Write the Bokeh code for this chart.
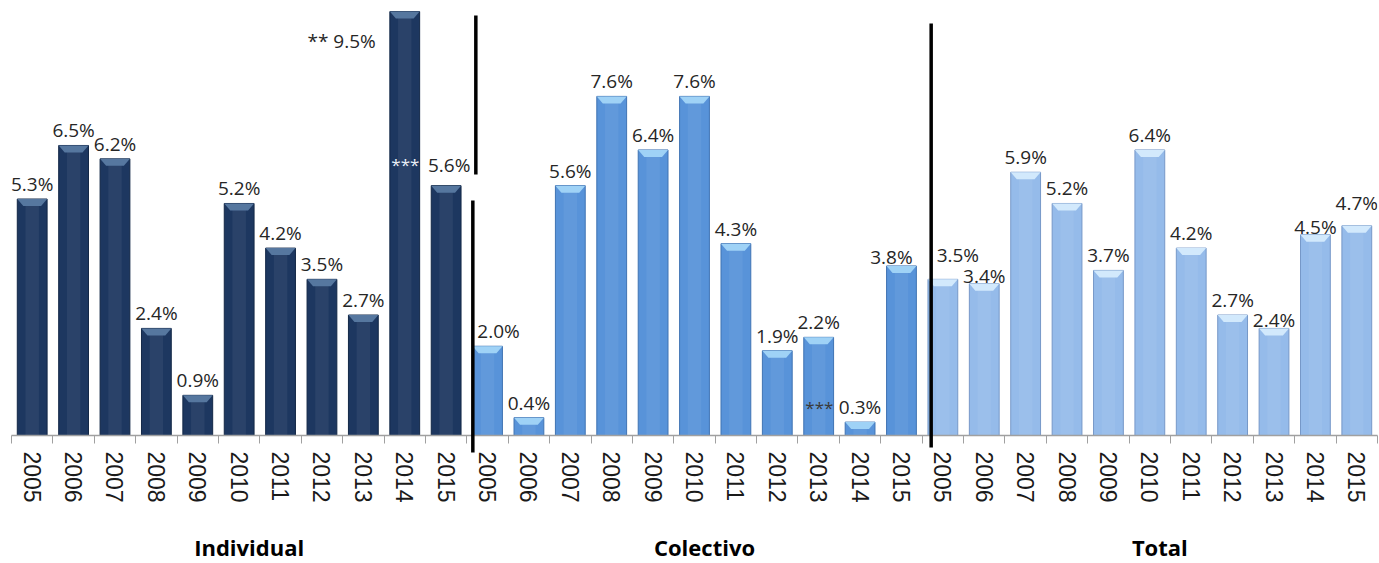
import math
from bokeh.plotting import figure
from bokeh.models import FixedTicker, Range1d, ColumnDataSource, LinearAxis
from bokeh.core.properties import value
from bokeh.embed import file_html
from bokeh.resources import INLINE

# ---------------- data ----------------
years = ["2005", "2006", "2007", "2008", "2009", "2010",
         "2011", "2012", "2013", "2014", "2015"]
groups = ["Individual", "Colectivo", "Total"]
individual = [5.3, 6.5, 6.2, 2.4, 0.9, 5.2, 4.2, 3.5, 2.7, 9.5, 5.6]
colectivo = [2.0, 0.4, 5.6, 7.6, 6.4, 7.6, 4.3, 1.9, 2.2, 0.3, 3.8]
total = [3.5, 3.4, 5.9, 5.2, 3.7, 6.4, 4.2, 2.7, 2.4, 4.5, 4.7]
markers = {("Individual", "2014"): "**",
           ("Individual", "2015"): "***",
           ("Colectivo", "2014"): "***"}

# ---------------- layout / style ----------------
FRAME_W, FRAME_H = 1366, 427
N = len(groups) * len(years)
Y_MAX = 9.57
PX_X = FRAME_W / N
PX_Y = FRAME_H / Y_MAX
BAR_W = 0.72

fills = ["#1d3760", "#5893d9", "#95bbea"]
bevels = ["#56779f", "#9fd2f6", "#d2e9fc"]
edges = ["#122746", "#3f73b3", "#7698c8"]
LABEL_COLOR = "#262626"
LABEL_FONT = "Open Sans"

# label nudges in screen pixels (dx right, dy down)
nudges = {("Individual", "2015"): (3, -6),
          ("Colectivo", "2005"): (11, 0),
          ("Colectivo", "2015"): (-10, 6),
          ("Total", "2005"): (15, -9),
          ("Total", "2006"): (0, 7),
          ("Total", "2013"): (0, 7),
          ("Total", "2014"): (0, 7),
          ("Total", "2015"): (0, -8)}

series = [individual, colectivo, total]

bx, btop, bfill, bedge = [], [], [], []
bev_xs, bev_ys, bev_col = [], [], []
lx, ly, ltext, lalign = [], [], [], []
mx, my, mtext, mcol = [], [], [], []

half = BAR_W / 2
bev_h = 7 / PX_Y
bev_in = 6 / PX_X
for g, vals in enumerate(series):
    for i, v in enumerate(vals):
        x = g * len(years) + i
        bx.append(x)
        btop.append(v)
        bfill.append(fills[g])
        bedge.append(edges[g])
        bev_xs.append([x - half, x + half, x + half - bev_in, x - half + bev_in])
        bev_ys.append([v, v, v - bev_h, v - bev_h])
        bev_col.append(bevels[g])

        key = (groups[g], years[i])
        txt = f"{v:.1f}%"
        if key in markers and markers[key] == "**":
            # label placed to the left of the bar, below its top
            lx.append(x - 29 / PX_X)
            ly.append(v - 29 / PX_Y)
            ltext.append(markers[key] + " " + txt)
            lalign.append("right")
            continue
        dx, dy = nudges.get(key, (0, 0))
        yy = v + (15 - dy) / PX_Y
        lx.append(x + dx / PX_X)
        ly.append(yy)
        ltext.append(txt)
        lalign.append("center")
        if key in markers:
            mx.append(x - 0.5 - 6 / PX_X)
            my.append(yy)
            mtext.append(markers[key])
            mcol.append("#e8eef6" if g == 0 else "#3a3a3a")

# ---------------- figure ----------------
p = figure(frame_width=FRAME_W, frame_height=FRAME_H,
           min_border_left=11, min_border_right=2,
           min_border_top=8, min_border_bottom=126,
           x_range=Range1d(-0.5, N - 0.5), y_range=Range1d(0, Y_MAX),
           y_axis_location=None, toolbar_location=None,
           output_backend="svg", background_fill_color="white",
           border_fill_color="white")
p.outline_line_color = None
p.xgrid.visible = False
p.ygrid.visible = False

bars = ColumnDataSource(dict(x=bx, top=btop, fill=bfill, edge=bedge))
p.vbar(x="x", top="top", bottom=0, width=BAR_W, source=bars,
       fill_color="fill", line_color="edge", line_width=1)

# subtle central sheen to suggest the cylindrical look
p.vbar(x="x", top="top", bottom=0, width=BAR_W * 0.45, source=bars,
       fill_color="white", fill_alpha=0.06, line_color=None)

p.patches(xs=bev_xs, ys=bev_ys, fill_color=bev_col, line_color=None)

labels = ColumnDataSource(dict(x=lx, y=ly, text=ltext, align=lalign))
p.text(x="x", y="y", text="text", source=labels, text_align="align",
       text_baseline="alphabetic", text_font=value(LABEL_FONT),
       text_font_size="19px", text_color=LABEL_COLOR)

marks = ColumnDataSource(dict(x=mx, y=my, text=mtext, color=mcol))
p.text(x="x", y="y", text="text", source=marks, text_align="right",
       text_baseline="alphabetic", text_font=value(LABEL_FONT),
       text_font_size="17px", text_color="color")

# separators between groups (pixel extents measured from baseline)
sep = dict(x0=[], y0=[], x1=[], y1=[])
for bnd, dxp, up, down in [(len(years) - 0.5, 9, 420, 261),
                           (len(years) - 0.5, 6, 235, -17),
                           (2 * len(years) - 0.5, 9, 412, -12)]:
    xx = bnd + dxp / PX_X
    sep["x0"].append(xx)
    sep["x1"].append(xx)
    sep["y0"].append(up / PX_Y)
    sep["y1"].append(down / PX_Y)
p.segment(x0="x0", y0="y0", x1="x1", y1="y1", source=ColumnDataSource(sep),
          line_color="black", line_width=3.5, level="overlay")

# x axis with years
ax = p.xaxis[0]
ax.ticker = FixedTicker(ticks=list(range(N)),
                        minor_ticks=[i - 0.5 for i in range(N + 1)])
ax.major_label_overrides = {i: years[i % len(years)] for i in range(N)}
ax.major_label_orientation = "vertical"
ax.major_label_text_font = "Liberation Sans"
ax.major_label_text_font_size = "23px"
ax.major_label_text_color = "#1a1a1a"
ax.major_label_standoff = 8
ax.major_tick_out = 0
ax.major_tick_in = 0
ax.minor_tick_out = 8
ax.minor_tick_in = 0
ax.minor_tick_line_color = "#a0a0a0"
ax.axis_line_color = "#a0a0a0"
ax.axis_line_width = 1.5

# second axis below carrying group titles
gcent = [g * len(years) + (len(years) - 1) / 2 + 10 / PX_X for g in range(len(groups))]
gax = LinearAxis(ticker=FixedTicker(ticks=gcent, minor_ticks=[]),
                 major_label_overrides={c: t for c, t in zip(gcent, groups)},
                 axis_line_color=None, major_tick_line_color=None,
                 minor_tick_line_color=None,
                 major_label_text_font=LABEL_FONT,
                 major_label_text_font_style="bold",
                 major_label_text_font_size="22px",
                 major_label_text_color="black",
                 major_label_standoff=20)
p.add_layout(gax, "below")

open("out.html", "w").write(file_html(p, INLINE))
